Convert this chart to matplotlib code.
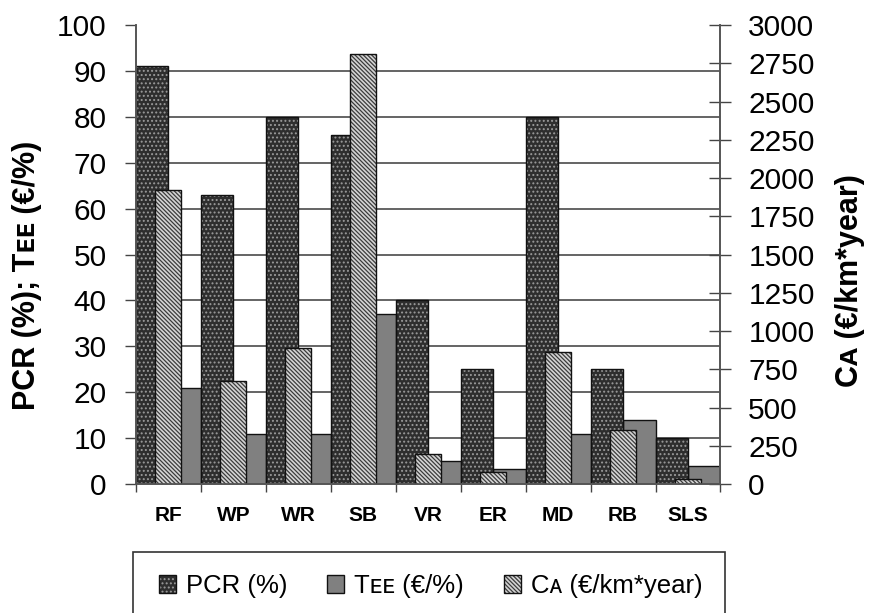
import numpy as np
import matplotlib.pyplot as plt
from matplotlib.patches import Patch, Rectangle

plt.rcParams['font.family'] = ['Liberation Sans', 'DejaVu Sans']
plt.rcParams['hatch.linewidth'] = 0.9

# values
categories = ['RF', 'WP', 'WR', 'SB', 'VR', 'ER', 'MD', 'RB', 'SLS']
pcr = [91, 63, 80, 76, 40, 25, 80, 25, 10]            # %
tee = [21, 10.8, 11, 37, 5, 3.3, 10.8, 14, 3.9]       # EUR/%
ca = [1920, 675, 888, 2810, 195, 80, 860, 350, 33]    # EUR/km*year

labels = ['PCR (%)', 'Tᴇᴇ (€/%)', 'Cᴀ (€/km*year)']

pcr_face, pcr_dots = '#2e2e2e', '#9a9a9a'
tee_face = '#808080'
ca_face, ca_lines = '#d4d4d4', '#3c3c3c'
ca_hatch = '\\' * 8
edge = '#111111'

x = np.arange(len(categories))

fig = plt.figure(figsize=(8.69, 6.13), dpi=100)
ax = fig.add_axes([0.1565, 0.2104, 0.6726, 0.7488])
ax2 = ax.twinx()

# primary axis: PCR and TEE side by side, filling each category
ax.bar(x, pcr, width=0.5, align='edge', color=pcr_face, edgecolor=pcr_dots,
       hatch='....', linewidth=0, zorder=2)
ax.bar(x, pcr, width=0.5, align='edge', facecolor='none', edgecolor=edge,
       linewidth=1, zorder=2.1)
ax.bar(x + 0.5, tee, width=0.5, align='edge', color=tee_face, edgecolor=edge,
       linewidth=1, zorder=2)

# secondary axis: CA centred on the category, drawn on top
ax2.bar(x + 0.5, ca, width=0.4, color=ca_face, edgecolor=ca_lines,
        hatch=ca_hatch, linewidth=0)
ax2.bar(x + 0.5, ca, width=0.4, facecolor='none', edgecolor=edge, linewidth=1)

# horizontal grid lines (none at 100)
for g in range(10, 100, 10):
    ax.axhline(g, color='#3a3a3a', linewidth=1.1, zorder=0.5)

ax.set_xlim(0, 9)
ax.set_ylim(0, 100)
ax2.set_ylim(0, 3000)
ax.set_yticks(range(0, 101, 10))
ax2.set_yticks(range(0, 3001, 250))

ax.set_xticks(np.arange(10))
ax.set_xticks(x + 0.5, minor=True)
ax.set_xticklabels(categories, minor=True, fontweight='bold')
ax.tick_params(axis='x', which='major', length=6, width=1, color='#444',
               labelbottom=False)
ax.tick_params(axis='x', which='minor', length=0, pad=16, labelsize=15)
ax.tick_params(axis='y', direction='out', length=8, width=1, color='#444',
               pad=13, labelsize=21.5)
ax2.tick_params(axis='y', direction='inout', length=16, width=1, color='#444',
                pad=12, labelsize=21.5)

for a in (ax, ax2):
    a.spines['top'].set_visible(False)
    for s in ('left', 'right', 'bottom'):
        a.spines[s].set_color('#555')
        a.spines[s].set_linewidth(1.2)

ax.set_ylabel('PCR (%); Tᴇᴇ (€/%)', fontsize=22, fontweight='bold', va='center')
ax.yaxis.set_label_coords(-0.1865, 0.455)
ax2.set_ylabel('Cᴀ (€/km*year)', fontsize=22, fontweight='bold', va='center',
               rotation=90)
ax2.yaxis.set_label_coords(1.2216, 0.444)

# legend below the plot, frame runs off the bottom edge
handles = [
    (Patch(facecolor=pcr_face, edgecolor=pcr_dots, hatch='....', linewidth=0),
     Patch(facecolor='none', edgecolor=edge, linewidth=1)),
    Patch(facecolor=tee_face, edgecolor=edge, linewidth=1),
    (Patch(facecolor=ca_face, edgecolor=ca_lines, hatch=ca_hatch, linewidth=0),
     Patch(facecolor='none', edgecolor=edge, linewidth=1)),
]
fig.legend(handles, labels, loc='center', bbox_to_anchor=(0.4954, 0.044),
           ncol=3, frameon=False, fontsize=18.5, handlelength=0.66,
           handleheight=0.66, handletextpad=0.39, columnspacing=1.55)
fig.add_artist(Rectangle((0.153, -0.05), 0.6812, 0.1495, transform=fig.transFigure,
                         fill=False, edgecolor='#333', linewidth=1.2))

fig.savefig('out.png', dpi=100)
